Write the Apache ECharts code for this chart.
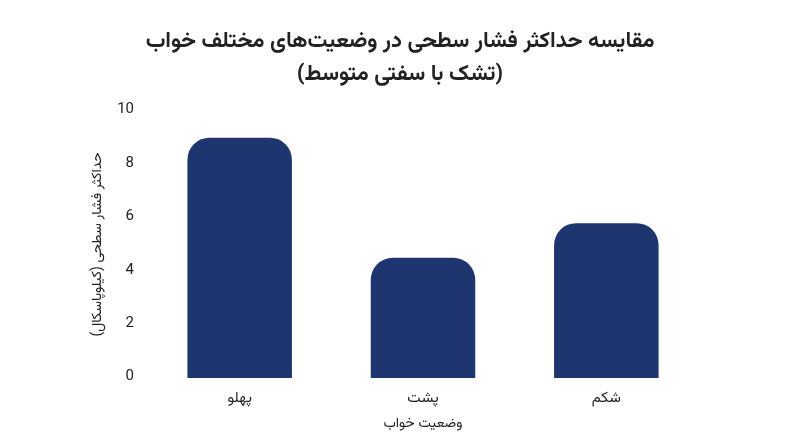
<!DOCTYPE html>
<html><head><meta charset="utf-8">
<script src="https://cdn.jsdelivr.net/npm/echarts@6/dist/echarts.min.js"></script>
<style>html,body{margin:0;background:#fff}#c{width:800px;height:447px}</style>
</head><body><div id="c"></div>
<script>
const categories = ['پهلو', 'پشت', 'شکم'];
const values = [9.0, 4.5, 5.8];
const yTicks = [0, 2, 4, 6, 8, 10];
const chart = echarts.init(document.getElementById('c'));
chart.setOption({
  backgroundColor: '#fff',
  textStyle: { fontFamily: 'Vazirmatn, "Noto Sans", "DejaVu Sans", sans-serif' },
  title: {
    text: 'مقایسه حداکثر فشار سطحی در وضعیت‌های مختلف خواب\n(تشک با سفتی متوسط)',
    left: 'center', top: 22,
    textStyle: { fontSize: 22, fontWeight: 'bold', color: '#222', lineHeight: 33 }
  },
  grid: { left: 148, right: 102, top: 111, bottom: 69 },
  xAxis: {
    type: 'category', data: categories,
    name: 'وضعیت خواب', nameLocation: 'middle', nameGap: 40,
    nameTextStyle: { fontSize: 14, color: '#222' },
    axisLine: { show: false }, axisTick: { show: false },
    axisLabel: { fontSize: 15, color: '#222', margin: 14 }
  },
  yAxis: {
    type: 'value', min: 0, max: 10, interval: 2,
    name: 'حداکثر فشار سطحی (کیلوپاسکال)', nameLocation: 'middle', nameGap: 40,
    nameTextStyle: { fontSize: 14, color: '#222' },
    splitLine: { show: false }, axisLine: { show: false }, axisTick: { show: false },
    axisLabel: { fontSize: 15, color: '#222', margin: 14,
      formatter: v => yTicks.includes(v) ? String(v) : '' }
  },
  series: [{
    type: 'bar', data: values, barWidth: '57%',
    itemStyle: { color: '#1e3570', borderRadius: [22, 22, 0, 0] }
  }]
});
</script></body></html>
